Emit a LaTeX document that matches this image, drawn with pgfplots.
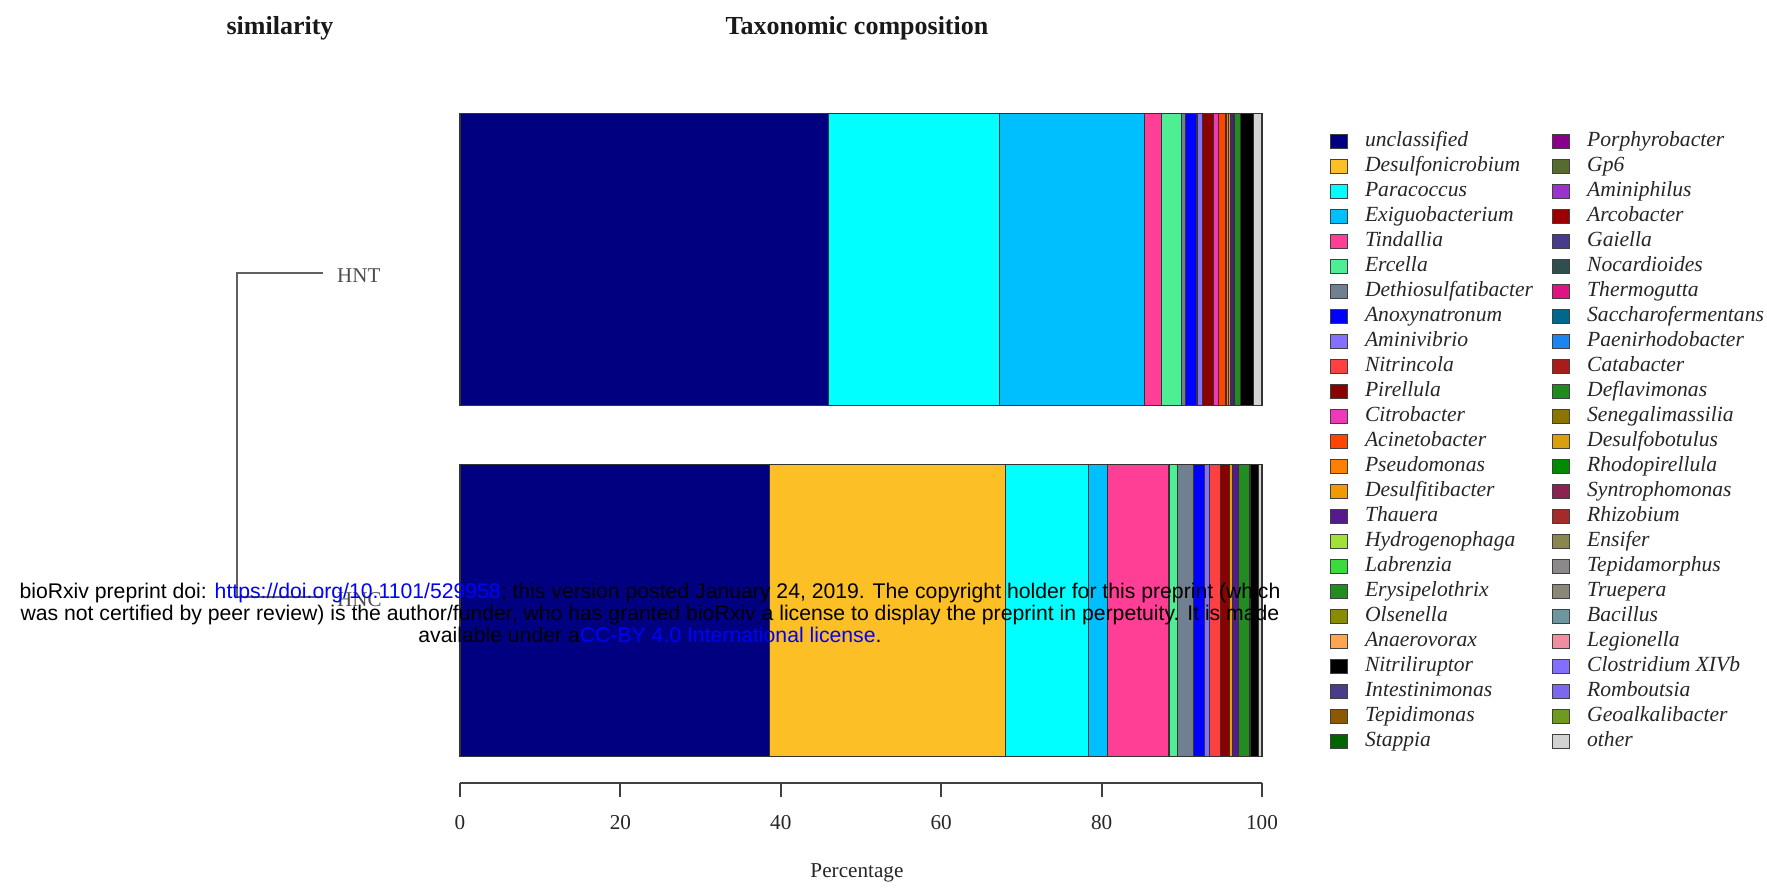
\documentclass[border=0pt]{standalone}
\usepackage{pgfplots}
\pgfplotsset{compat=1.18}
\usepackage{fontspec}
\setmainfont{Liberation Serif}
\newfontfamily\wmfont{Liberation Sans}
% palette (legend order)
\definecolor{c01}{HTML}{000080}
\definecolor{c02}{HTML}{FDBF26}
\definecolor{c03}{HTML}{00FFFF}
\definecolor{c04}{HTML}{00BFFF}
\definecolor{c05}{HTML}{FF3E96}
\definecolor{c06}{HTML}{4EEE94}
\definecolor{c07}{HTML}{708090}
\definecolor{c08}{HTML}{0000FF}
\definecolor{c09}{HTML}{8470FF}
\definecolor{c10}{HTML}{FF4040}
\definecolor{c11}{HTML}{8B0000}
\definecolor{c12}{HTML}{EE3AB8}
\definecolor{c13}{HTML}{FF4500}
\definecolor{c14}{HTML}{FF7F00}
\definecolor{c15}{HTML}{EE9A00}
\definecolor{c16}{HTML}{551A8B}
\definecolor{c17}{HTML}{A2E03A}
\definecolor{c18}{HTML}{3ADB3A}
\definecolor{c19}{HTML}{228B22}
\definecolor{c20}{HTML}{8B8B00}
\definecolor{c21}{HTML}{FFA54F}
\definecolor{c22}{HTML}{000000}
\definecolor{c23}{HTML}{483D8B}
\definecolor{c24}{HTML}{8B5A00}
\definecolor{c25}{HTML}{006400}
\definecolor{c26}{HTML}{8B008B}
\definecolor{c27}{HTML}{556B2F}
\definecolor{c28}{HTML}{9A32CD}
\definecolor{c29}{HTML}{9B0000}
\definecolor{c30}{HTML}{473C8B}
\definecolor{c31}{HTML}{2F4F4F}
\definecolor{c32}{HTML}{DD1482}
\definecolor{c33}{HTML}{00688B}
\definecolor{c34}{HTML}{1C86EE}
\definecolor{c35}{HTML}{A81C1C}
\definecolor{c36}{HTML}{1E8B1E}
\definecolor{c37}{HTML}{8B7500}
\definecolor{c38}{HTML}{D8A010}
\definecolor{c39}{HTML}{008B00}
\definecolor{c40}{HTML}{8B2252}
\definecolor{c41}{HTML}{A52A2A}
\definecolor{c42}{HTML}{8B864E}
\definecolor{c43}{HTML}{8B8989}
\definecolor{c44}{HTML}{8B8878}
\definecolor{c45}{HTML}{6C96A0}
\definecolor{c46}{HTML}{EE8E9E}
\definecolor{c47}{HTML}{836FFF}
\definecolor{c48}{HTML}{7B68EE}
\definecolor{c49}{HTML}{6E9A1E}
\definecolor{c50}{HTML}{D3D3D3}
\begin{document}
\begin{tikzpicture}
\path[use as bounding box] (-230pt,-54.5pt) rectangle (653.5pt,391.5pt);
\begin{axis}[
  at={(0pt,0pt)}, anchor=south west,
  scale only axis, width=401pt, height=335pt,
  xbar stacked, bar width=0.832,
  xmin=0, xmax=100, ymin=-0.4915, ymax=1.4174,
  axis y line=none, axis x line*=bottom,
  x axis line style={-, draw=black!75, line width=0.9pt},
  xtick={0,20,40,60,80,100}, tick align=outside, major tick length=7pt,
  xtick style={draw=black!75, line width=0.9pt},
  /pgf/number format/assume math mode=true,
  xticklabel style={font=\fontsize{10.6}{12}\selectfont, text=black!85, yshift=-5.6pt},
  xlabel={Percentage},
  xlabel style={at={(axis description cs:0.495,-0.1343)}, anchor=center, font=\fontsize{10.6}{12}\selectfont, text=black!85},
  clip=false,
  every axis plot/.append style={draw=black!80, line width=0.6pt},
  legend image code/.code={\draw[#1, draw=black!75, line width=0.5pt] (0pt,-3.5pt) rectangle (8.5pt,3.5pt);},
  legend columns=2,
  legend cell align=left,
  legend style={at={(1.0848,0.9755)}, anchor=north west, draw=none, fill=none,
    inner sep=0pt, outer sep=0pt, row sep=0pt, column sep=0pt,
    font=\fontsize{10.8}{12}\selectfont\itshape, text=black!85,
    nodes={inner sep=0pt, text height=8.5pt, text depth=4pt},
    /tikz/every odd column/.append style={column sep=8.5pt},
    /tikz/every even column/.append style={column sep=9.6pt}},
]
% stacked bars: (value, sample); sample 1 = HNT, 0 = HNC
\addplot[fill=c01, forget plot] coordinates {(45.9,1) (38.6,0)};
\addplot[fill=c02, forget plot] coordinates {(0,1) (29.4,0)};
\addplot[fill=c03, forget plot] coordinates {(21.4,1) (10.4,0)};
\addplot[fill=c04, forget plot] coordinates {(18.0,1) (2.3,0)};
\addplot[fill=c05, forget plot] coordinates {(2.2,1) (7.7,0)};
\addplot[fill=c06, forget plot] coordinates {(2.5,1) (1.1,0)};
\addplot[fill=c07, forget plot] coordinates {(0.5,1) (2.0,0)};
\addplot[fill=c08, forget plot] coordinates {(1.4,1) (1.3,0)};
\addplot[fill=c09, forget plot] coordinates {(0.7,1) (0.7,0)};
\addplot[fill=c10, forget plot] coordinates {(0,1) (1.3,0)};
\addplot[fill=c11, forget plot] coordinates {(1.4,1) (1.1,0)};
\addplot[fill=c12, forget plot] coordinates {(0.6,1) (0,0)};
\addplot[fill=c13, forget plot] coordinates {(0.9,1) (0,0)};
\addplot[fill=c14, forget plot] coordinates {(0.3,1) (0,0)};
\addplot[fill=c15, forget plot] coordinates {(0.3,1) (0.4,0)};
\addplot[fill=c16, forget plot] coordinates {(0.4,1) (0.8,0)};
\addplot[fill=c19, forget plot] coordinates {(0.8,1) (1.4,0)};
\addplot[fill=c22, forget plot] coordinates {(1.6,1) (1.1,0)};
\addplot[fill=c50, forget plot] coordinates {(1.1,1) (0.4,0)};
% legend (two columns, filled column-wise)
\addlegendimage{fill=c01}\addlegendentry{unclassified}
\addlegendimage{fill=c26}\addlegendentry{Porphyrobacter}
\addlegendimage{fill=c02}\addlegendentry{Desulfonicrobium}
\addlegendimage{fill=c27}\addlegendentry{Gp6}
\addlegendimage{fill=c03}\addlegendentry{Paracoccus}
\addlegendimage{fill=c28}\addlegendentry{Aminiphilus}
\addlegendimage{fill=c04}\addlegendentry{Exiguobacterium}
\addlegendimage{fill=c29}\addlegendentry{Arcobacter}
\addlegendimage{fill=c05}\addlegendentry{Tindallia}
\addlegendimage{fill=c30}\addlegendentry{Gaiella}
\addlegendimage{fill=c06}\addlegendentry{Ercella}
\addlegendimage{fill=c31}\addlegendentry{Nocardioides}
\addlegendimage{fill=c07}\addlegendentry{Dethiosulfatibacter}
\addlegendimage{fill=c32}\addlegendentry{Thermogutta}
\addlegendimage{fill=c08}\addlegendentry{Anoxynatronum}
\addlegendimage{fill=c33}\addlegendentry{Saccharofermentans}
\addlegendimage{fill=c09}\addlegendentry{Aminivibrio}
\addlegendimage{fill=c34}\addlegendentry{Paenirhodobacter}
\addlegendimage{fill=c10}\addlegendentry{Nitrincola}
\addlegendimage{fill=c35}\addlegendentry{Catabacter}
\addlegendimage{fill=c11}\addlegendentry{Pirellula}
\addlegendimage{fill=c36}\addlegendentry{Deflavimonas}
\addlegendimage{fill=c12}\addlegendentry{Citrobacter}
\addlegendimage{fill=c37}\addlegendentry{Senegalimassilia}
\addlegendimage{fill=c13}\addlegendentry{Acinetobacter}
\addlegendimage{fill=c38}\addlegendentry{Desulfobotulus}
\addlegendimage{fill=c14}\addlegendentry{Pseudomonas}
\addlegendimage{fill=c39}\addlegendentry{Rhodopirellula}
\addlegendimage{fill=c15}\addlegendentry{Desulfitibacter}
\addlegendimage{fill=c40}\addlegendentry{Syntrophomonas}
\addlegendimage{fill=c16}\addlegendentry{Thauera}
\addlegendimage{fill=c41}\addlegendentry{Rhizobium}
\addlegendimage{fill=c17}\addlegendentry{Hydrogenophaga}
\addlegendimage{fill=c42}\addlegendentry{Ensifer}
\addlegendimage{fill=c18}\addlegendentry{Labrenzia}
\addlegendimage{fill=c43}\addlegendentry{Tepidamorphus}
\addlegendimage{fill=c19}\addlegendentry{Erysipelothrix}
\addlegendimage{fill=c44}\addlegendentry{Truepera}
\addlegendimage{fill=c20}\addlegendentry{Olsenella}
\addlegendimage{fill=c45}\addlegendentry{Bacillus}
\addlegendimage{fill=c21}\addlegendentry{Anaerovorax}
\addlegendimage{fill=c46}\addlegendentry{Legionella}
\addlegendimage{fill=c22}\addlegendentry{Nitriliruptor}
\addlegendimage{fill=c47}\addlegendentry{Clostridium XIVb}
\addlegendimage{fill=c23}\addlegendentry{Intestinimonas}
\addlegendimage{fill=c48}\addlegendentry{Romboutsia}
\addlegendimage{fill=c24}\addlegendentry{Tepidimonas}
\addlegendimage{fill=c49}\addlegendentry{Geoalkalibacter}
\addlegendimage{fill=c25}\addlegendentry{Stappia}
\addlegendimage{fill=c50}\addlegendentry{other}
% titles
\node[font=\bfseries\fontsize{13}{15}\selectfont, text=black!90] at (rel axis cs:0.495,1.1266) {Taxonomic composition};
\node[font=\bfseries\fontsize{13}{15}\selectfont, text=black!90] at (rel axis cs:-0.2244,1.1266) {similarity};
% dendrogram
\draw[draw=black!62, line width=1.2pt] (rel axis cs:-0.1708,0.7612) -| (rel axis cs:-0.278,0.2776) -- (rel axis cs:-0.1708,0.2776);
\node[anchor=west, font=\fontsize{10.5}{12}\selectfont, text=black!70] at (rel axis cs:-0.1619,0.7575) {HNT};
\node[anchor=west, font=\fontsize{10.5}{12}\selectfont, text=black!70] at (rel axis cs:-0.1619,0.2740) {HNC};
\end{axis}
% preprint notice, printed on top of the figure
\node[font=\wmfont\fontsize{10.6}{11}\selectfont, align=center, text=black] at (95pt,85pt)
 {bioRxiv preprint doi: \textcolor{blue}{https://doi.org/10.1101/529958}; this version posted January 24, 2019. The copyright holder for this preprint (which\\
  was not certified by peer review) is the author/funder, who has granted bioRxiv a license to display the preprint in perpetuity. It is made\\
  available under a\textcolor{blue}{CC-BY 4.0 International license}.};
\end{tikzpicture}
\end{document}
